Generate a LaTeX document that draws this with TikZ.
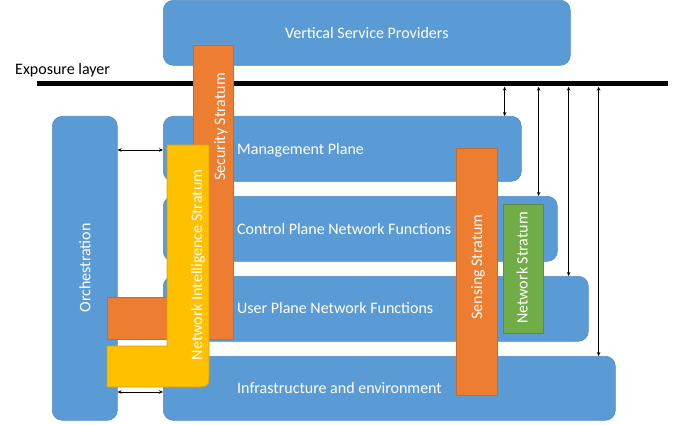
\documentclass[tikz,border=0pt]{standalone}
\usepackage{fontspec}
\setmainfont{Carlito}
\usetikzlibrary{arrows.meta}
\definecolor{cblue}{HTML}{5B9BD5}
\definecolor{cblueb}{HTML}{4F8CC6}
\definecolor{corange}{HTML}{ED7D31}
\definecolor{corangeb}{HTML}{C9692A}
\definecolor{cyellow}{HTML}{FFC000}
\definecolor{cyellowb}{HTML}{D9A300}
\definecolor{cgreen}{HTML}{70AD47}
\definecolor{cgreenb}{HTML}{5A8F37}
\tikzset{
  box/.style={fill=cblue, draw=cblueb, line width=0.6pt, rounded corners=10pt, anchor=north west, inner sep=0pt},
  txt/.style={text=white, font=\fontsize{16}{18}\selectfont, inner sep=0pt},
  orangeshape/.style={fill=corange, draw=corangeb, line width=0.8pt},
  yellowshape/.style={fill=cyellow, draw=cyellowb, line width=0.8pt},
  greenbox/.style={fill=cgreen, draw=cgreenb, line width=0.8pt, anchor=north west, inner sep=0pt},
  orangebox/.style={fill=corange, draw=corangeb, line width=0.8pt, anchor=north west, inner sep=0pt},
  dbl/.style={{Stealth[length=4pt,width=3.5pt]}-{Stealth[length=4pt,width=3.5pt]}, line width=0.7pt, black},
}
\begin{document}
\begin{tikzpicture}[x=1pt,y=-1pt]
\useasboundingbox (0,0) rectangle (683,425);
% top box
\node[box, minimum width=407pt, minimum height=65pt] (vsp) at (163,0) {};
\node[txt] (vspt) at (vsp.center) {Vertical Service Providers};
% exposure line
\node[fill=black, minimum width=631pt, minimum height=5pt, inner sep=0pt, anchor=west] (exp) at (37,84) {};
\node[font=\fontsize{16}{18}\selectfont, inner sep=0pt, anchor=west] (expt) at (15,70) {Exposure layer};
% planes
\node[box, minimum width=358pt, minimum height=65pt] (mp) at (163,116) {};
\node[box, minimum width=394pt, minimum height=65pt] (cp) at (163,196) {};
\node[box, minimum width=425pt, minimum height=65pt] (up) at (163,276) {};
\node[box, minimum width=452pt, minimum height=64pt] (inf) at (163,356) {};
\node[box, minimum width=65pt, minimum height=304pt] (orch) at (52,116) {};
% arrows
\coordinate (a1) at ([xshift=-17pt]mp.north east);
\coordinate (a2) at ([xshift=-19pt]cp.north east);
\coordinate (a3) at ([xshift=-20pt]up.north east);
\coordinate (a4) at ([xshift=-17pt]inf.north east);
\draw[dbl] (a1 |- exp.south) -- (a1);
\draw[dbl] (a2 |- exp.south) -- (a2);
\draw[dbl] (a3 |- exp.south) -- (a3);
\draw[dbl] (a4 |- exp.south) -- (a4);
\draw[dbl] (orch.east |- 0,150) -- (mp.west |- 0,150);
\draw[dbl] (orch.east |- 0,392) -- (inf.west |- 0,392);
% security stratum (L)
\draw[orangeshape] (193,45) -- (233,45) -- (233,339) -- (107,339) -- (107,297) -- (193,297) -- cycle;
% network intelligence stratum (L)
\draw[yellowshape] (167,145) -- (209,145) -- (209,372) .. controls (209,387) .. (194,387) -- (107,387) -- (107,346) -- (167,346) -- cycle;
% sensing and network strata
\node[orangebox, minimum width=41pt, minimum height=247pt] (sens) at (456,148) {};
\node[greenbox, minimum width=40pt, minimum height=129pt] (net) at (503,204) {};
% texts
\node[txt, anchor=west] (mpt) at (237,150) {Management Plane};
\node[txt, anchor=west] (cpt) at (237,229) {Control Plane Network Functions};
\node[txt, anchor=west] (upt) at (237,308) {User Plane Network Functions};
\node[txt, anchor=west] (inft) at (237,388) {Infrastructure and environment};
\node[txt, rotate=90] (orcht) at (85,268) {Orchestration};
\node[txt, rotate=90] (sect) at (221,127) {Security Stratum};
\node[txt, rotate=90] (nist) at (198,265) {Network Intelligence Stratum};
\node[txt, rotate=90] (senst) at (478,267) {Sensing Stratum};
\node[txt, rotate=90] (nett) at (522,268) {Network Stratum};
\end{tikzpicture}
\end{document}
